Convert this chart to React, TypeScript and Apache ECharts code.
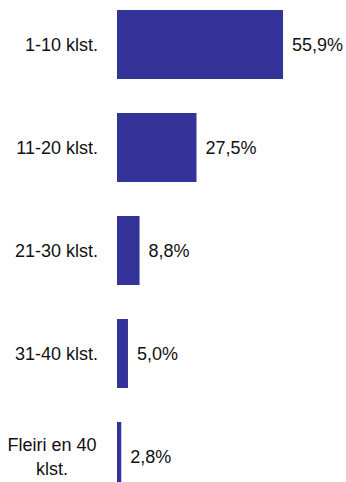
import React, { useEffect, useRef } from "react";
import * as echarts from "echarts";

const categories = ["1-10 klst.", "11-20 klst.", "21-30 klst.", "31-40 klst.", "Fleiri en 40 klst."];
const values = [55.9, 27.5, 8.8, 5.0, 2.8];

export default function App() {
  const ref = useRef<HTMLDivElement>(null);
  useEffect(() => {
    if (!ref.current) return;
    const chart = echarts.init(ref.current, undefined, { renderer: "svg" });
    chart.setOption({
      animation: false,
      backgroundColor: "#ffffff",
      textStyle: { fontFamily: "Liberation Sans, Arial, sans-serif" },
      grid: { left: 117, right: 20, top: 0, bottom: 0, containLabel: false },
      xAxis: {
        type: "value",
        min: 1.4,
        max: 70,
        show: false,
        splitLine: { show: false },
      },
      yAxis: {
        type: "category",
        data: categories,
        inverse: true,
        axisLine: { show: false },
        axisTick: { show: false },
        axisLabel: {
          margin: 19,
          fontSize: 18,
          color: "#111111",
          fontFamily: "Liberation Sans, Arial, sans-serif",
          formatter: (v: string) => {
            if (v === "Fleiri en 40 klst.") return "{c|Fleiri en 40}\n{c|klst.}";
            return v;
          },
          rich: {
            c: {
              width: 92,
              align: "center",
              fontSize: 18,
              lineHeight: 24,
              color: "#111111",
              fontFamily: "Liberation Sans, Arial, sans-serif",
            },
          },
        },
      },
      series: [
        {
          type: "bar",
          data: values,
          clip: true,
          barCategoryGap: "33%",
          itemStyle: { color: "#333399" },
          label: {
            show: true,
            position: "right",
            distance: 9,
            fontSize: 18,
            color: "#111111",
            fontFamily: "Liberation Sans, Arial, sans-serif",
            formatter: (p: any) => p.value.toFixed(1).replace(".", ",") + "%",
          },
        },
      ],
    });
    return () => chart.dispose();
  }, []);
  return (
    <div style={{ position: "fixed", left: 0, top: 0, width: 346, height: 482, overflow: "hidden", background: "#fff" }}>
      <div
        ref={ref}
        style={{ position: "absolute", left: 0, top: -7, width: 346, height: 515 }}
      />
    </div>
  );
}
